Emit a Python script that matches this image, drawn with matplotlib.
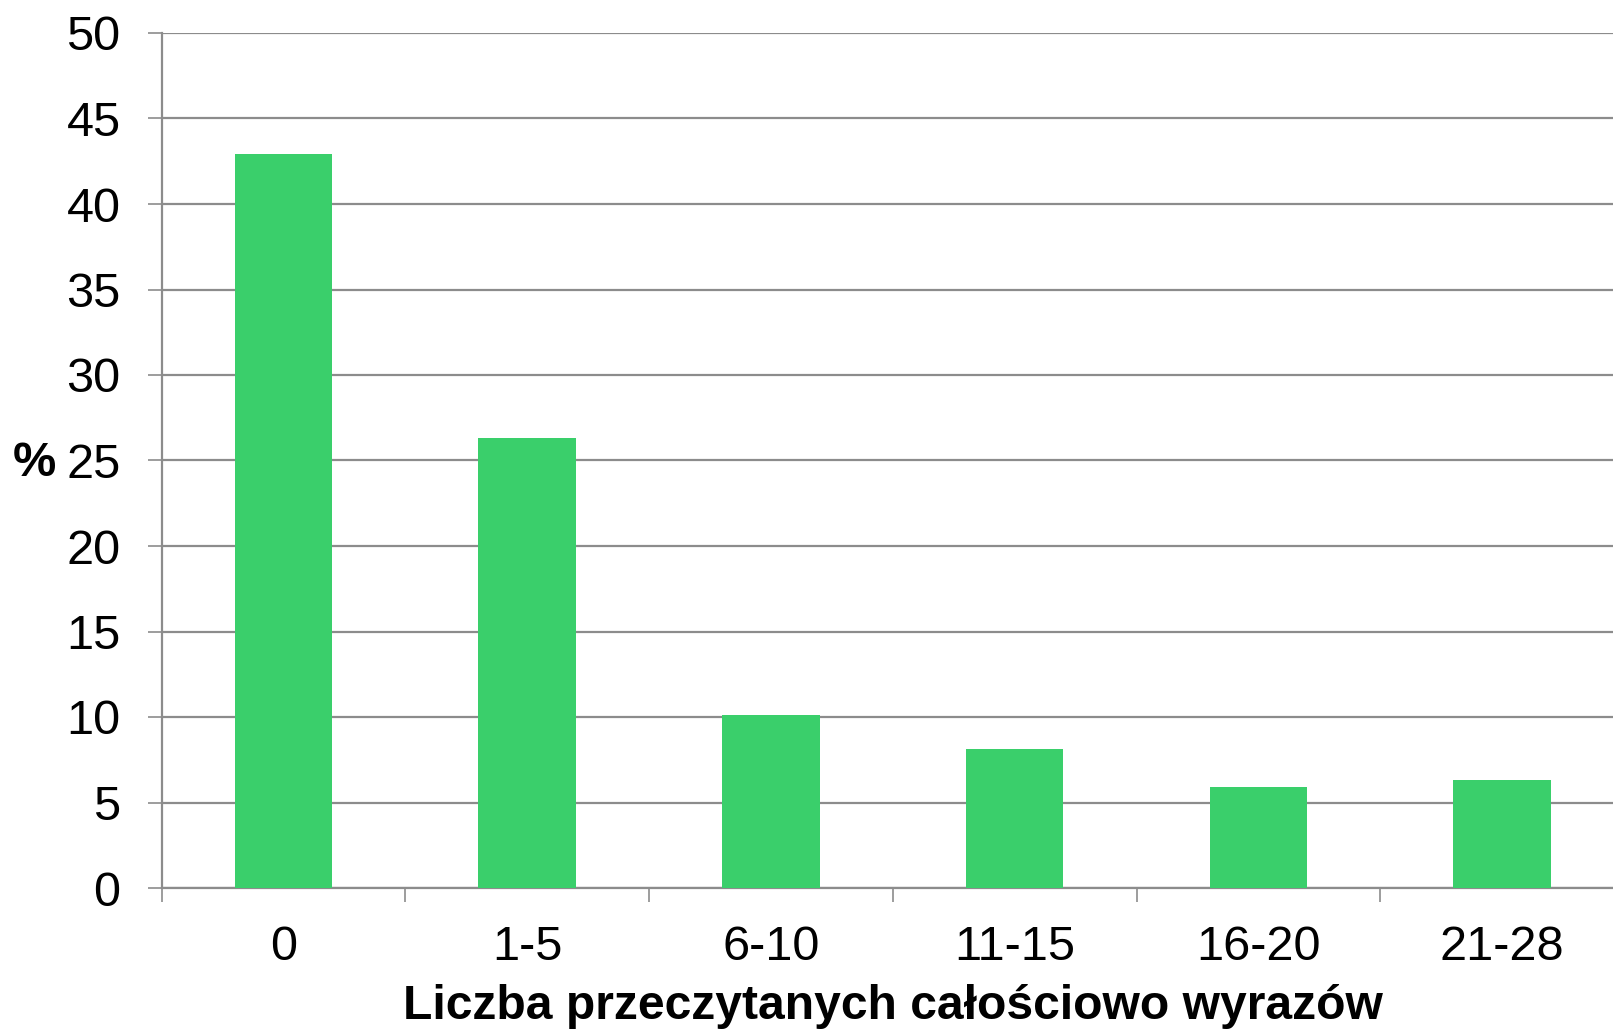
import matplotlib
matplotlib.use("Agg")
import matplotlib.pyplot as plt
import numpy as np

categories = ["0", "1-5", "6-10", "11-15", "16-20", "21-28"]
values = [42.9, 26.3, 10.1, 8.1, 5.9, 6.3]
yticks = [0, 5, 10, 15, 20, 25, 30, 35, 40, 45, 50]

plt.rcParams['font.family'] = ['Liberation Sans', 'DejaVu Sans']

W, H = 1613, 1034
fig = plt.figure(figsize=(W / 100, H / 100), dpi=100)
left_px, right_px, top_px, bot_px = 161.5, 1624, 33, 888
ax = fig.add_axes([left_px / W, 1 - bot_px / H, (right_px - left_px) / W, (bot_px - top_px) / H])

gray = "#8c8c8c"
x = np.arange(len(categories))
ax.bar(x, values, width=0.4, color="#3acf6b", zorder=3)

ax.set_xlim(-0.5, len(categories) - 0.5)
ax.set_ylim(0, 50)
ax.set_yticks(yticks)
ax.set_yticklabels([str(v) for v in yticks])
ax.yaxis.grid(True, color=gray, linewidth=1.6, zorder=0)
ax.set_axisbelow(True)

ax.set_xticks(x)
ax.set_xticklabels(categories)
ax.set_xticks(np.arange(len(categories)) - 0.5, minor=True)
ax.tick_params(axis='x', which='major', length=0, pad=27, labelsize=35)
ax.tick_params(axis='x', which='minor', length=10, width=1.2, color=gray, direction='out')
ax.tick_params(axis='y', length=10, width=1.2, color=gray, direction='out', pad=19.5, labelsize=35)

for s in ["top", "right"]:
    ax.spines[s].set_visible(False)
for s in ["left", "bottom"]:
    ax.spines[s].set_color(gray)
    ax.spines[s].set_linewidth(1.6)

ax.set_xlabel("Liczba przeczytanych całościowo wyrazów", fontsize=34.6, fontweight='bold', labelpad=10)
fig.text(34 / W, 1 - 463 / H, "%", fontsize=35, fontweight='bold', ha='center', va='center')

fig.savefig("out.png", dpi=100)
